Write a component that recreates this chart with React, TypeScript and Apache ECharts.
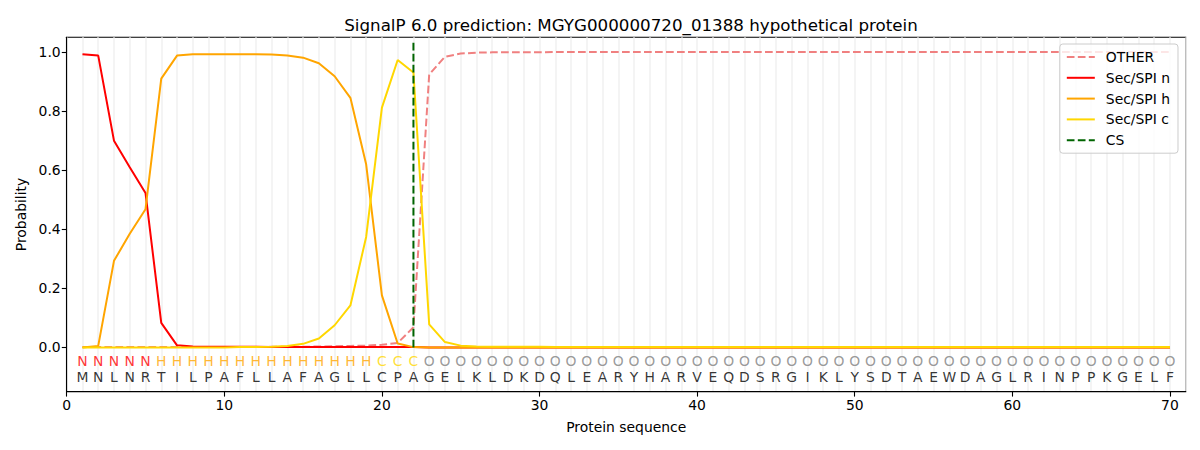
import React, { useEffect, useRef } from "react";
import * as echarts from "echarts";

const positions = [
  1, 2, 3, 4, 5, 6, 7, 8, 9, 10, 11, 12, 13, 14, 15, 16, 17, 18, 19, 20,
  21, 22, 23, 24, 25, 26, 27, 28, 29, 30, 31, 32, 33, 34, 35, 36, 37, 38, 39, 40,
  41, 42, 43, 44, 45, 46, 47, 48, 49, 50, 51, 52, 53, 54, 55, 56, 57, 58, 59, 60,
  61, 62, 63, 64, 65, 66, 67, 68, 69, 70,
];

const sequence = "MNLNRTILPAFLLAFAGLLCPAGELKLDKDQLEARYHARVEQDSRGIKLYSDTAEWDAGLRINPPKGELF";
const regions = "NNNNNHHHHHHHHHHHHHHCCC" + "OOOOOOOO" + "OOOOOOOO" + "OOOOOOOO" + "OOOOOOOO" + "OOOOOOOO" + "OOOOOOOO";

const otherProb = [
  0.001, 0.001, 0.001, 0.001, 0.001, 0.001, 0.001, 0.001, 0.001, 0.001,
  0.001, 0.001, 0.002, 0.002, 0.002, 0.003, 0.004, 0.005, 0.006, 0.009,
  0.015, 0.068, 0.924, 0.984, 0.995, 0.998, 0.999, 0.999, 0.999, 0.999,
  1.0, 1.0, 1.0, 1.0, 1.0, 1.0, 1.0, 1.0, 1.0, 1.0,
  1.0, 1.0, 1.0, 1.0, 1.0, 1.0, 1.0, 1.0, 1.0, 1.0,
  1.0, 1.0, 1.0, 1.0, 1.0, 1.0, 1.0, 1.0, 1.0, 1.0,
  1.0, 1.0, 1.0, 1.0, 1.0, 1.0, 1.0, 1.0, 1.0, 1.0,
];
const nProb = [
  0.993, 0.988, 0.700, 0.610, 0.523, 0.083, 0.007, 0.003, 0.002, 0.002,
  0.002, 0.002, 0.001, 0.001, 0.001, 0.001, 0.001, 0.001, 0.001, 0.001,
  0.001, 0.001, 0.0, 0.0, 0.0, 0.0, 0.0, 0.0, 0.0, 0.0,
  0.0, 0.0, 0.0, 0.0, 0.0, 0.0, 0.0, 0.0, 0.0, 0.0,
  0.0, 0.0, 0.0, 0.0, 0.0, 0.0, 0.0, 0.0, 0.0, 0.0,
  0.0, 0.0, 0.0, 0.0, 0.0, 0.0, 0.0, 0.0, 0.0, 0.0,
  0.0, 0.0, 0.0, 0.0, 0.0, 0.0, 0.0, 0.0, 0.0, 0.0,
];
const hProb = [
  0.0, 0.005, 0.293, 0.385, 0.468, 0.910, 0.988, 0.993, 0.993, 0.993,
  0.993, 0.993, 0.992, 0.988, 0.981, 0.962, 0.918, 0.845, 0.620, 0.176,
  0.013, 0.001, 0.0, 0.0, 0.0, 0.0, 0.0, 0.0, 0.0, 0.0,
  0.0, 0.0, 0.0, 0.0, 0.0, 0.0, 0.0, 0.0, 0.0, 0.0,
  0.0, 0.0, 0.0, 0.0, 0.0, 0.0, 0.0, 0.0, 0.0, 0.0,
  0.0, 0.0, 0.0, 0.0, 0.0, 0.0, 0.0, 0.0, 0.0, 0.0,
  0.0, 0.0, 0.0, 0.0, 0.0, 0.0, 0.0, 0.0, 0.0, 0.0,
];
const cProb = [
  0.0, 0.0, 0.0, 0.0, 0.0, 0.0, 0.0, 0.0, 0.0, 0.0,
  0.001, 0.001, 0.002, 0.005, 0.012, 0.030, 0.075, 0.142, 0.374, 0.812,
  0.973, 0.931, 0.078, 0.018, 0.006, 0.003, 0.002, 0.002, 0.002, 0.002,
  0.001, 0.001, 0.001, 0.001, 0.001, 0.001, 0.001, 0.001, 0.001, 0.001,
  0.001, 0.001, 0.001, 0.001, 0.001, 0.001, 0.001, 0.001, 0.001, 0.001,
  0.001, 0.001, 0.001, 0.001, 0.001, 0.001, 0.001, 0.001, 0.001, 0.001,
  0.001, 0.001, 0.001, 0.001, 0.001, 0.001, 0.001, 0.001, 0.001, 0.001,
];

const csPosition = 22;
const csSpan = [0, 1.04];
const xTicks = [0, 10, 20, 30, 40, 50, 60, 70];
const yTicks = [0, 0.2, 0.4, 0.6, 0.8, 1.0];

const regionColors: Record<string, string> = {
  N: "#ff0000",
  H: "#ffa500",
  C: "#ffd700",
  O: "#808080",
};

const FONT = "DejaVu Sans";
const FS = 13.9;

export default function App() {
  const ref = useRef<HTMLDivElement>(null);

  useEffect(() => {
    if (!ref.current) return;
    const chart = echarts.init(ref.current, null, { renderer: "svg" });

    const pairs = (vals: number[]) => positions.map((p, i) => [p, vals[i]]);

    const regionData = positions.map((p, i) => ({
      value: [p, -0.047],
      label: {
        show: true,
        formatter: regions[i],
        color: regionColors[regions[i]],
        fontSize: FS,
        fontFamily: FONT,
      },
    }));
    const seqData = positions.map((p, i) => ({
      value: [p, -0.1],
      label: { show: true, formatter: sequence[i], color: "#000000", fontSize: FS, fontFamily: FONT },
    }));

    const dash = [7.7, 3.3];

    chart.setOption({
      animation: false,
      textStyle: { fontFamily: FONT },
      title: {
        text: "SignalP 6.0 prediction: MGYG000000720_01388 hypothetical protein",
        left: 626,
        textAlign: "center",
        top: 11,
        textStyle: { fontFamily: FONT, fontSize: 16.7, fontWeight: "normal", color: "#000" },
      },
      legend: {
        orient: "vertical",
        right: 22,
        top: 44,
        data: ["OTHER", "Sec/SPI n", "Sec/SPI h", "Sec/SPI c", "CS"],
        itemWidth: 28,
        itemHeight: 14,
        itemGap: 6.8,
        padding: [6, 8, 6, 6],
        borderColor: "#cccccc",
        borderWidth: 1,
        borderRadius: 3,
        backgroundColor: "rgba(255,255,255,0.8)",
        itemStyle: { opacity: 0, borderWidth: 0 },
        textStyle: { fontFamily: FONT, fontSize: FS, color: "#000", padding: [0, 0, 0, 6] },
      },
      grid: {
        left: 66.7,
        right: 14.3,
        top: 37.3,
        bottom: 58.3,
        show: true,
        borderColor: "#000",
        borderWidth: 1.1,
        backgroundColor: "transparent",
      },
      xAxis: [
        {
          type: "value",
          min: 0,
          max: 71,
          name: "Protein sequence",
          nameLocation: "middle",
          nameGap: 28,
          nameTextStyle: { fontFamily: FONT, fontSize: FS, color: "#000" },
          axisLine: { show: true, onZero: false, lineStyle: { color: "#000", width: 1.1 } },
          axisTick: { show: true, length: 4.9, customValues: xTicks, lineStyle: { color: "#000", width: 1.1 } },
          axisLabel: { customValues: xTicks, fontFamily: FONT, fontSize: FS, color: "#000", margin: 6 },
          splitLine: { show: false },
        },
        {
          type: "value",
          min: 0,
          max: 71,
          interval: 1,
          position: "bottom",
          axisLine: { show: false },
          axisTick: { show: false },
          axisLabel: { show: false },
          splitLine: { show: true, lineStyle: { color: "#f0f0f0", width: 1.5 } },
        },
      ],
      yAxis: {
        type: "value",
        min: -0.15,
        max: 1.05,
        name: "Probability",
        nameLocation: "middle",
        nameRotate: 90,
        nameGap: 38,
        nameTextStyle: { fontFamily: FONT, fontSize: FS, color: "#000" },
        axisLine: { show: true, onZero: false, lineStyle: { color: "#000", width: 1.1 } },
        axisTick: { show: true, length: 4.9, customValues: yTicks, lineStyle: { color: "#000", width: 1.1 } },
        axisLabel: {
          customValues: yTicks,
          fontFamily: FONT,
          fontSize: FS,
          color: "#000",
          margin: 6,
          formatter: (v: number) => v.toFixed(1),
        },
        splitLine: { show: false },
      },
      series: [
        {
          name: "OTHER",
          type: "line",
          data: pairs(otherProb),
          symbol: "none",
          color: "#f08080",
          lineStyle: { color: "#f08080", width: 2, type: dash },
        },
        {
          name: "Sec/SPI n",
          type: "line",
          data: pairs(nProb),
          symbol: "none",
          color: "#ff0000",
          lineStyle: { color: "#ff0000", width: 2 },
        },
        {
          name: "Sec/SPI h",
          type: "line",
          data: pairs(hProb),
          symbol: "none",
          color: "#ffa500",
          lineStyle: { color: "#ffa500", width: 2 },
        },
        {
          name: "Sec/SPI c",
          type: "line",
          data: pairs(cProb),
          symbol: "none",
          color: "#ffd700",
          lineStyle: { color: "#ffd700", width: 2 },
        },
        {
          name: "CS",
          type: "line",
          data: [
            [csPosition, csSpan[0]],
            [csPosition, csSpan[1]],
          ],
          symbol: "none",
          color: "#006400",
          lineStyle: { color: "#006400", width: 2, type: dash },
        },
        {
          name: "regions",
          type: "scatter",
          data: regionData,
          symbolSize: 2,
          itemStyle: { color: "rgba(0,0,0,0)" },
          silent: true,
          label: { show: true, position: "inside", fontFamily: FONT, fontSize: FS },
        },
        {
          name: "sequence",
          type: "scatter",
          data: seqData,
          symbolSize: 2,
          itemStyle: { color: "rgba(0,0,0,0)" },
          silent: true,
          label: { show: true, position: "inside", fontFamily: FONT, fontSize: FS },
        },
      ],
    });

    return () => chart.dispose();
  }, []);

  return (
    <div
      ref={ref}
      style={{ position: "fixed", left: 0, top: 0, width: 1200, height: 450, background: "#fff" }}
    />
  );
}
